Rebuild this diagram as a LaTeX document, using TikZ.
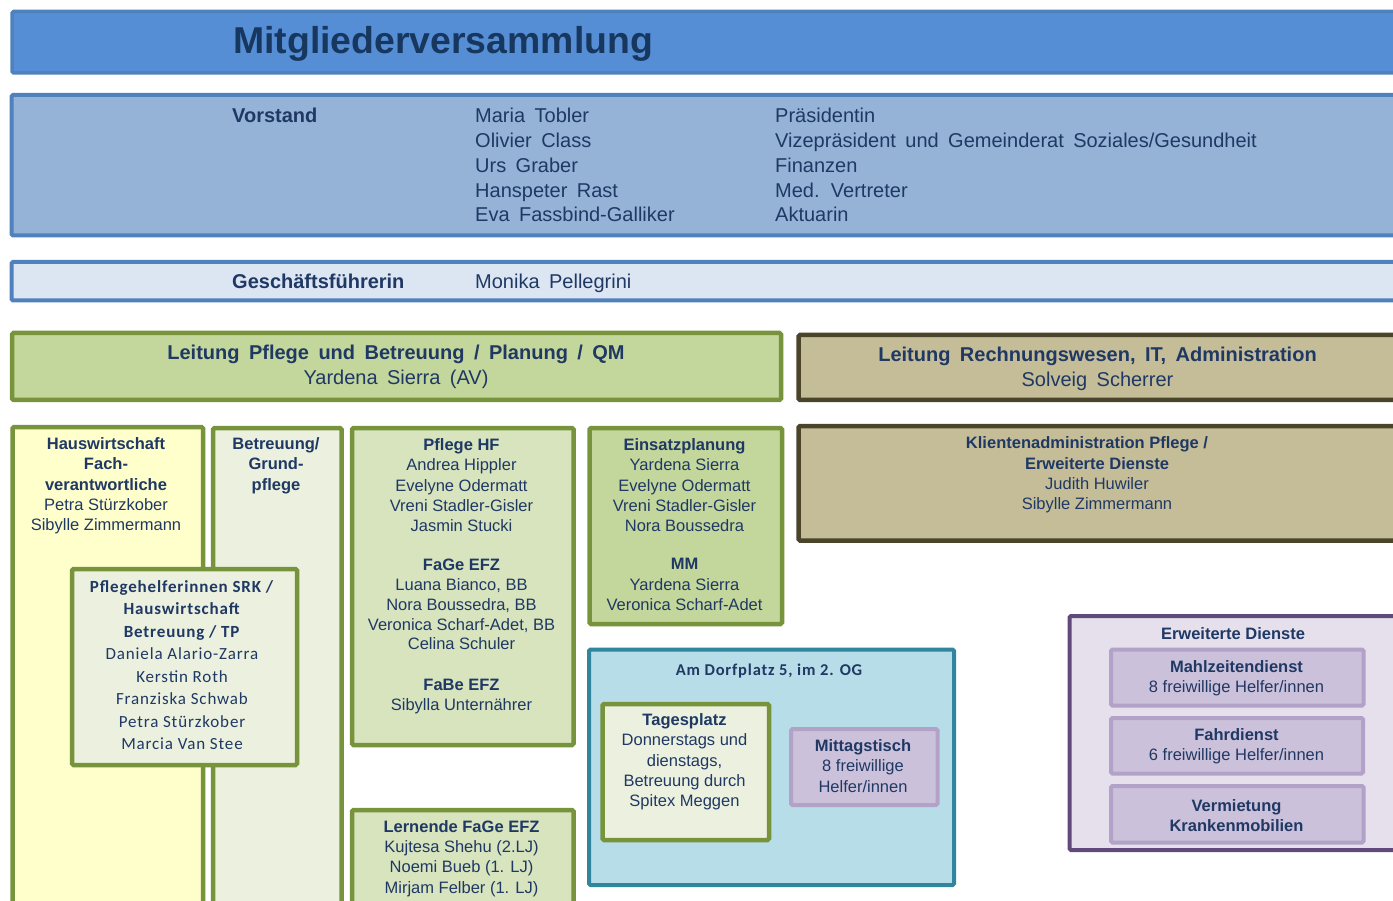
\documentclass[tikz,border=0pt]{standalone}
\usepackage{fontspec}
\setmainfont{Liberation Sans}
\newfontfamily\widefont{Liberation Sans}[WordSpace=1.7]
\newfontfamily\calfont{Carlito}[LetterSpace=5]
\usepackage{xcolor}
\usepackage{tikz}
\usetikzlibrary{positioning}

\definecolor{navy}{HTML}{1F3864}
\definecolor{titlenavy}{HTML}{17375E}
\definecolor{titleblue}{HTML}{558ED5}
\definecolor{titleline}{HTML}{4F81BD}
\definecolor{boardblue}{HTML}{95B3D7}
\definecolor{paleblue}{HTML}{DCE6F2}
\definecolor{leafgreen}{HTML}{C3D69B}
\definecolor{grassline}{HTML}{77933C}
\definecolor{khaki}{HTML}{C4BD97}
\definecolor{oliveline}{HTML}{4A452A}
\definecolor{paleyellow}{HTML}{FFFFCC}
\definecolor{palegreen}{HTML}{EBF1DE}
\definecolor{midgreen}{HTML}{D7E4BD}
\definecolor{aqua}{HTML}{B7DDE8}
\definecolor{tealline}{HTML}{31859C}
\definecolor{lilac}{HTML}{CCC1DA}
\definecolor{lilacline}{HTML}{B3A2C7}
\definecolor{palelilac}{HTML}{E6E0EC}
\definecolor{plumline}{HTML}{604A7B}

\begin{document}
\begin{tikzpicture}[x=1pt, y=-1pt,
    frame/.style={line width=4pt, rounded corners=1.5pt},
    greenframe/.style={frame, line width=4.5pt, draw=grassline},
    lilacframe/.style={frame, draw=lilacline, fill=lilac},
    txt/.style={text=navy, inner sep=0pt, align=center, anchor=north, font=\fontsize{16.5}{20.3}\selectfont},
    big/.style={text=navy, inner sep=0pt, align=left, anchor=north west, font=\widefont\fontsize{20}{24.8}\selectfont},
    bigbold/.style={big, font=\widefont\bfseries\fontsize{20}{24.8}\selectfont},
    bigc/.style={big, align=center, anchor=north},
    cal/.style={txt, font=\calfont\fontsize{17}{22.5}\selectfont}]
    \useasboundingbox (0,0) rectangle (1393,901);
    \clip (0,0) rectangle (1393,901);

    % Mitgliederversammlung
    \draw[frame, line width=3.5pt, draw=titleline, fill=titleblue] (12,11.5) rectangle (1420,73);
    \node[text=titlenavy, inner sep=0pt, anchor=base west, font=\bfseries\fontsize{37.4}{40}\selectfont] (title) at (233,53.5) {Mitgliederversammlung};

    % Vorstand
    \draw[frame, draw=titleline, fill=boardblue] (11.5,95) rectangle (1420,235.5);
    \node[bigbold] (vorstand) at (232,108) {Vorstand};
    \node[big] (vnames) at (475,108) {Maria Tobler\\Olivier Class\\Urs Graber\\Hanspeter Rast\\Eva Fassbind-Galliker};
    \node[big] (vroles) at (775,108) {Präsidentin\\Vizepräsident und Gemeinderat Soziales/Gesundheit\\Finanzen\\Med. Vertreter\\Aktuarin};

    % Geschaeftsfuehrerin
    \draw[frame, draw=titleline, fill=paleblue] (11.5,262) rectangle (1420,300.5);
    \node[bigbold] (gf) at (232,274.3) {Geschäftsführerin};
    \node[big] (gfname) at (475,274.3) {Monika Pellegrini};

    % Leitungen
    \draw[greenframe, fill=leafgreen] (12,333) rectangle (781,400);
    \node[bigc] (lpflege) at (396,345) {\textbf{Leitung Pflege und Betreuung / Planung / QM}\\Yardena Sierra (AV)};
    \draw[frame, line width=4.5pt, draw=oliveline, fill=khaki] (798.5,335) rectangle (1420,400);
    \node[bigc] (lrw) at (1097.5,346.7) {\textbf{Leitung Rechnungswesen, IT, Administration}\\Solveig Scherrer};

    % Klientenadministration
    \draw[frame, line width=4.5pt, draw=oliveline, fill=khaki] (798.5,426) rectangle (1420,540.5);
    \node[txt] (klienten) at (1097,436.7) {\textbf{Klientenadministration Pflege /}\hspace*{20pt}\\\textbf{Erweiterte Dienste}\\Judith Huwiler\\Sibylle Zimmermann};

    % Hauswirtschaft and Betreuung columns
    \draw[greenframe, fill=paleyellow] (12.5,427) rectangle (203,920);
    \node[txt] (hausw) at (106,437.3) {\textbf{Hauswirtschaft}\\\textbf{Fach-}\\\textbf{verantwortliche}\\Petra Stürzkober\\Sibylle Zimmermann};
    \draw[greenframe, fill=palegreen] (213,428) rectangle (341.5,920);
    \node[txt] (betreuung) at (276,437.3) {\textbf{Betreuung/}\\\textbf{Grund-}\\\textbf{pflege}};

    % Pflegehelferinnen (over both columns)
    \draw[greenframe, fill=palegreen] (72,569) rectangle (297,765);
    \node[cal] (phelfer) at (182,580) {\textbf{Pflegehelferinnen SRK /}\\\textbf{Hauswirtschaft}\\\textbf{Betreuung / TP}\\Daniela Alario-Zarra\\Kerstin Roth\\Franziska Schwab\\Petra Stürzkober\\Marcia Van Stee};

    % Pflege HF
    \draw[greenframe, fill=midgreen] (352,428) rectangle (573.5,745);
    \node[txt] (pflegehf) at (461.5,438.3) {\textbf{Pflege HF}\\Andrea Hippler\\Evelyne Odermatt\\Vreni Stadler-Gisler\\Jasmin Stucki};
    \node[txt] (fage) at (461.5,558.3) {\textbf{FaGe EFZ}\\Luana Bianco, BB\\Nora Boussedra, BB\\Veronica Scharf-Adet, BB\\[-1.7pt]Celina Schuler};
    \node[txt] (fabe) at (461.5,679) {\textbf{FaBe EFZ}\\Sibylla Unternährer};

    % Einsatzplanung
    \draw[greenframe, fill=leafgreen] (589.5,428) rectangle (782,624);
    \node[txt] (einsatz) at (684.5,438.3) {\textbf{Einsatzplanung}\\Yardena Sierra\\Evelyne Odermatt\\Vreni Stadler-Gisler\\Nora Boussedra};
    \node[txt] (mm) at (684.5,558.3) {\textbf{MM}\\Yardena Sierra\\Veronica Scharf-Adet};

    % Lernende
    \draw[greenframe, fill=midgreen] (352,810) rectangle (573.5,920);
    \node[txt] (lernende) at (461.5,820) {\textbf{Lernende FaGe EFZ}\\Kujtesa Shehu (2.LJ)\\Noemi Bueb (1. LJ)\\Mirjam Felber (1. LJ)};

    % Am Dorfplatz
    \draw[frame, draw=tealline, fill=aqua] (589,649.5) rectangle (954,885);
    \node[txt, font=\calfont\bfseries\fontsize{16.5}{20}\selectfont] (dorfplatz) at (769,663.3) {Am Dorfplatz 5, im 2. OG};
    \draw[greenframe, fill=palegreen] (602.5,704) rectangle (769,840);
    \node[txt] (tagesplatz) at (684.5,713.3) {\textbf{Tagesplatz}\\Donnerstags und\\dienstags,\\Betreuung durch\\Spitex Meggen};
    \draw[lilacframe] (791,729) rectangle (937.5,805);
    \node[txt] (mittag) at (863,739.3) {\textbf{Mittagstisch}\\8 freiwillige\\Helfer/innen};

    % Erweiterte Dienste
    \draw[frame, draw=plumline, fill=palelilac] (1069.5,616) rectangle (1420,850);
    \node[txt] (erwdienste) at (1233,627.3) {\textbf{Erweiterte Dienste}};
    \draw[lilacframe] (1111,649.5) rectangle (1363.5,705.5);
    \node[txt] (mahlzeit) at (1236.5,660) {\textbf{Mahlzeitendienst}\\8 freiwillige Helfer/innen};
    \draw[lilacframe] (1111,718) rectangle (1363,773.5);
    \node[txt] (fahrdienst) at (1236.5,728.3) {\textbf{Fahrdienst}\\6 freiwillige Helfer/innen};
    \draw[lilacframe] (1111,786) rectangle (1363.5,842.5);
    \node[txt] (vermietung) at (1236.5,799) {\textbf{Vermietung}\\\textbf{Krankenmobilien}};
\end{tikzpicture}
\end{document}
